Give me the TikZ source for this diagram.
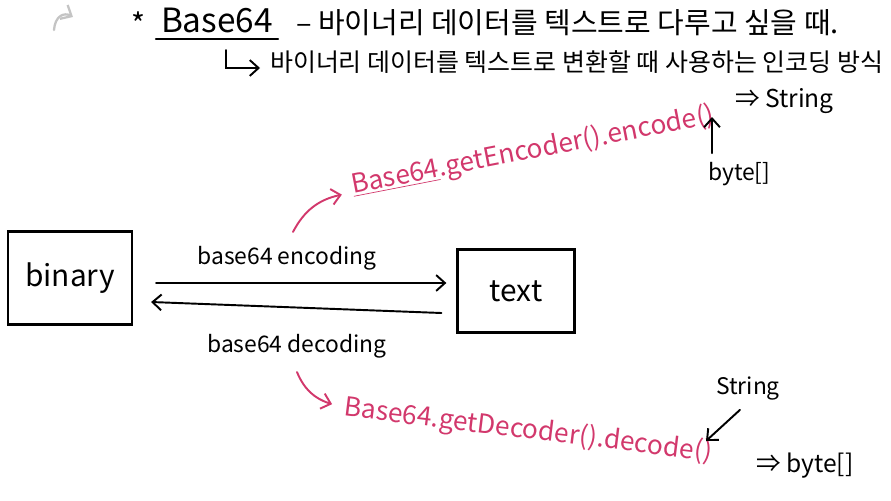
\documentclass[tikz,border=0pt]{standalone}
\usepackage{fontspec}
\setmainfont{Noto Sans CJK KR}
\usepackage{tikz}
\usetikzlibrary{arrows.meta, calc, positioning}
\definecolor{penRed}{HTML}{D2386C}
\definecolor{penGrey}{HTML}{C4C4C4}

\begin{document}
\begin{tikzpicture}[x=0.02cm, y=-0.02cm, line cap=round,
    >={Straight Barb[length=5pt, width=9pt]},
    hand/.style={font=\fontsize{13}{15}\selectfont, inner sep=1pt},
    big/.style={font=\fontsize{17}{19}\selectfont, inner sep=1pt},
    code/.style={font=\fontsize{15}{17}\selectfont, inner sep=1pt, text=penRed},
    box/.style={draw, line width=1.3pt, inner sep=0pt}]
    \useasboundingbox (0,0) rectangle (891,500);

    % title lines
    \draw[penGrey, line width=1.3pt, ->] (54,30) .. controls (55,16) and (64,12) .. (73,17);
    \node[big] (star) at (138,24) {*};
    \node[big, font=\fontsize{19}{21}\selectfont] (title) at (217,20) {Base64};
    \draw[line width=1.1pt] ($(title.south west)+(-3,4)$) -- ($(title.south east)+(3,4)$);
    \node[big, font=\fontsize{16.5}{19}\selectfont, anchor=west] (intro) at (294,23)
        {– 바이너리 데이터를 텍스트로 다루고 싶을 때.};
    \coordinate (hook) at (226,50);
    \node[hand, font=\fontsize{14.2}{16}\selectfont, anchor=west] (detail) at (268,62)
        {바이너리 데이터를 텍스트로 변환할 때 사용하는 인코딩 방식};
    \draw[line width=1.1pt, ->] (hook) |- ($(detail.west)+(-8,6)$);

    % boxes
    \node[box, minimum width=2.48cm, minimum height=1.86cm, big] (binary) at (70,278) {binary};
    \node[box, minimum width=2.34cm, minimum height=1.66cm, big] (text) at (516,291) {text};

    \draw[line width=1.1pt, ->] ($(binary.east)+(23,5)$) -- ($(text.west)+(-10,-8)$);
    \draw[line width=1.1pt, ->] ($(text.west)+(-15,22)$) -- ($(binary.east)+(18,24)$);
    \node[hand] (enclabel) at (287,258) {base64 encoding};
    \node[hand] (declabel) at (297,346) {base64 decoding};

    % encoder
    \node[code, rotate=11] (encoder) at (533,151) {\underline{Base64}.getEncoder().encode()};
    \draw[penRed, line width=1.1pt, ->] ($(enclabel.north)+(6,-12)$) to[bend left=25] ($(encoder.west)+(-8,8)$);
    \coordinate (encarg) at (712,117);
    \node[hand, anchor=west] (encin) at (706,174) {byte[]};
    \draw[line width=1.1pt, ->, shorten <=4pt] (encarg |- encin.north) -- (encarg);
    \node[hand, font=\fontsize{14}{16}\selectfont, anchor=west] (encout) at (733,101) {⇒ String};

    % decoder
    \node[code, rotate=-7] (decoder) at (528,431) {Base64.getDecoder().decode()};
    \draw[penRed, line width=1.1pt, ->] ($(declabel.south)+(0,12)$) to[bend right=25] ($(decoder.west)+(-10,-4)$);
    \coordinate (decarg) at (706,441);
    \node[hand] (decin) at (748,388) {String};
    \draw[line width=1.1pt, ->] ($(decin.south)+(-8,8)$) -- (decarg);
    \node[hand, font=\fontsize{14}{16}\selectfont, anchor=west] (decout) at (754,466) {⇒ byte[]};
\end{tikzpicture}
\end{document}
